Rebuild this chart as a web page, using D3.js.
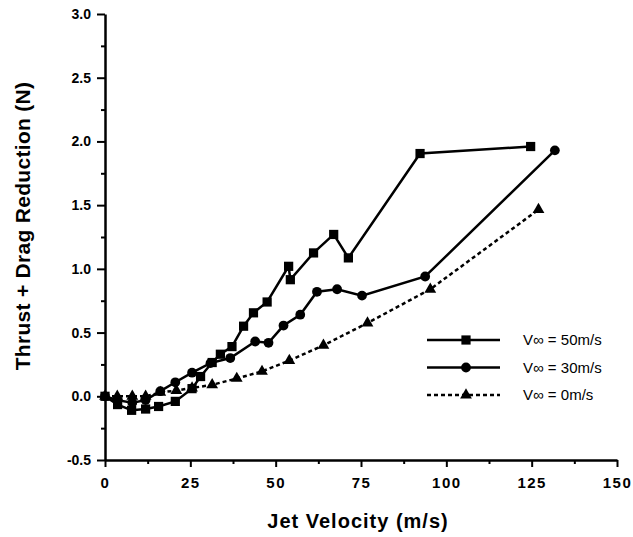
<!DOCTYPE html>
<html>
<head>
<meta charset="utf-8">
<script src="https://cdn.jsdelivr.net/npm/d3@7"></script>
<style>
  body { margin: 0; background: #fff; }
  svg { display: block; font-family: "Liberation Sans", Arial, sans-serif; }
</style>
</head>
<body>
<div id="chart"></div>
<script>
// data: [jet velocity m/s, thrust + drag reduction N]
const v50 = [
  [0, 0], [3.7, -0.065], [7.8, -0.11], [11.9, -0.10], [15.7, -0.08], [20.6, -0.04],
  [25.5, 0.06], [28, 0.155], [31.4, 0.265], [33.8, 0.33], [37.2, 0.39], [40.6, 0.55],
  [43.5, 0.655], [47.5, 0.74], [53.8, 1.02], [54.3, 0.915], [61.1, 1.125], [67, 1.27],
  [71.3, 1.086], [92.3, 1.905], [124.7, 1.96]
];
const v30 = [
  [0, 0], [3.6, -0.03], [8, -0.05], [11.9, -0.03], [16.2, 0.04], [20.6, 0.11],
  [25.5, 0.185], [30.9, 0.26], [36.7, 0.30], [44, 0.43], [47.9, 0.42], [52.3, 0.555],
  [57.2, 0.64], [62.1, 0.82], [68, 0.84], [75.3, 0.79], [93.8, 0.94], [131.8, 1.93]
];
const v0 = [
  [0, 0], [3.6, 0.0], [8, 0.0], [11.9, 0.0], [16.2, 0.03], [20.9, 0.045], [25.5, 0.065],
  [31.4, 0.09], [38.6, 0.14], [46, 0.195], [54, 0.28], [64, 0.40], [76.9, 0.575],
  [95.3, 0.84], [127, 1.465]
];
const seriesNames = ["V\u221e = 50m/s", "V\u221e = 30m/s", "V\u221e = 0m/s"];
const xTicks = [0, 25, 50, 75, 100, 125, 150];
const yTicks = [-0.5, 0, 0.5, 1, 1.5, 2, 2.5, 3];

const width = 633, height = 537;
const margin = { top: 14, right: 16, bottom: 77, left: 105 };

const x = d3.scaleLinear().domain([0, 150]).range([margin.left, width - margin.right]);
const y = d3.scaleLinear().domain([-0.5, 3]).range([height - margin.bottom, margin.top]);

const svg = d3.select("#chart").append("svg")
  .attr("width", width)
  .attr("height", height);

// minor ticks first
svg.append("g")
  .attr("transform", "translate(0," + y(-0.5) + ")")
  .call(d3.axisBottom(x).tickValues(d3.range(12.5, 150, 25)).tickSize(4).tickFormat(""))
  .call(g => g.select(".domain").remove())
  .selectAll("line").attr("stroke-width", 2);
svg.append("g")
  .attr("transform", "translate(" + x(0) + ",0)")
  .call(d3.axisLeft(y).tickValues(d3.range(-0.25, 3, 0.5)).tickSize(4).tickFormat(""))
  .call(g => g.select(".domain").remove())
  .selectAll("line").attr("stroke-width", 2);

const xAxis = svg.append("g")
  .attr("transform", "translate(0," + y(-0.5) + ")")
  .call(d3.axisBottom(x).tickValues(xTicks).tickSize(7).tickSizeOuter(0).tickPadding(10).tickFormat(d3.format("d")));
xAxis.select(".domain").attr("stroke-width", 2.5);
xAxis.selectAll("line").attr("stroke-width", 2);
xAxis.selectAll("text")
  .attr("font-size", 15).attr("font-weight", "bold").attr("fill", "#000")
  .attr("letter-spacing", "1.5px")
  .attr("font-family", "'Liberation Sans', Arial, sans-serif");

const yAxis = svg.append("g")
  .attr("transform", "translate(" + x(0) + ",0)")
  .call(d3.axisLeft(y).tickValues(yTicks).tickSize(8).tickSizeOuter(0).tickPadding(6).tickFormat(d3.format(".1f")));
yAxis.select(".domain").attr("stroke-width", 2.5);
yAxis.selectAll("line").attr("stroke-width", 2);
yAxis.selectAll("text")
  .attr("font-size", 14).attr("font-weight", "bold").attr("fill", "#000")
  .attr("font-family", "'Liberation Sans', Arial, sans-serif")
  .text(d => d < 0 ? "-" + Math.abs(d).toFixed(1) : d.toFixed(1));

// axis titles
svg.append("text")
  .attr("x", 358).attr("y", 528)
  .attr("text-anchor", "middle")
  .attr("font-size", 20).attr("font-weight", "bold")
  .attr("letter-spacing", "1px")
  .text("Jet Velocity (m/s)");
svg.append("text")
  .attr("transform", "translate(30,226) rotate(-90)")
  .attr("text-anchor", "middle")
  .attr("font-size", 21).attr("font-weight", "bold")
  .attr("letter-spacing", "0.3px")
  .text("Thrust + Drag Reduction (N)");

const line = d3.line().x(d => x(d[0])).y(d => y(d[1]));

const series = [
  { data: v50, dash: null, shape: d3.symbolSquare, size: 85 },
  { data: v30, dash: null, shape: d3.symbolCircle, size: 75 },
  { data: v0, dash: "4,3", shape: d3.symbolTriangle, size: 60 }
];

series.forEach(s => {
  svg.append("path")
    .datum(s.data)
    .attr("fill", "none")
    .attr("stroke", "#000")
    .attr("stroke-width", 2.5)
    .attr("stroke-dasharray", s.dash)
    .attr("d", line);
  svg.append("g").selectAll("path")
    .data(s.data)
    .enter()
    .append("path")
    .attr("transform", d => "translate(" + x(d[0]) + "," + y(d[1]) + ")")
    .attr("d", d3.symbol().type(s.shape).size(s.size))
    .attr("fill", "#000");
});

// legend
const legend = svg.append("g");
series.forEach((s, i) => {
  const ly = 340 + i * 27.5;
  legend.append("line")
    .attr("x1", 427).attr("x2", 500)
    .attr("y1", ly).attr("y2", ly)
    .attr("stroke", "#000")
    .attr("stroke-width", 2.5)
    .attr("stroke-dasharray", s.dash);
  legend.append("path")
    .attr("transform", "translate(466," + ly + ")")
    .attr("d", d3.symbol().type(s.shape).size(s.size))
    .attr("fill", "#000");
  legend.append("text")
    .attr("x", 523).attr("y", ly + 5)
    .attr("font-size", 15)
    .text(seriesNames[i]);
});
</script>
</body>
</html>
